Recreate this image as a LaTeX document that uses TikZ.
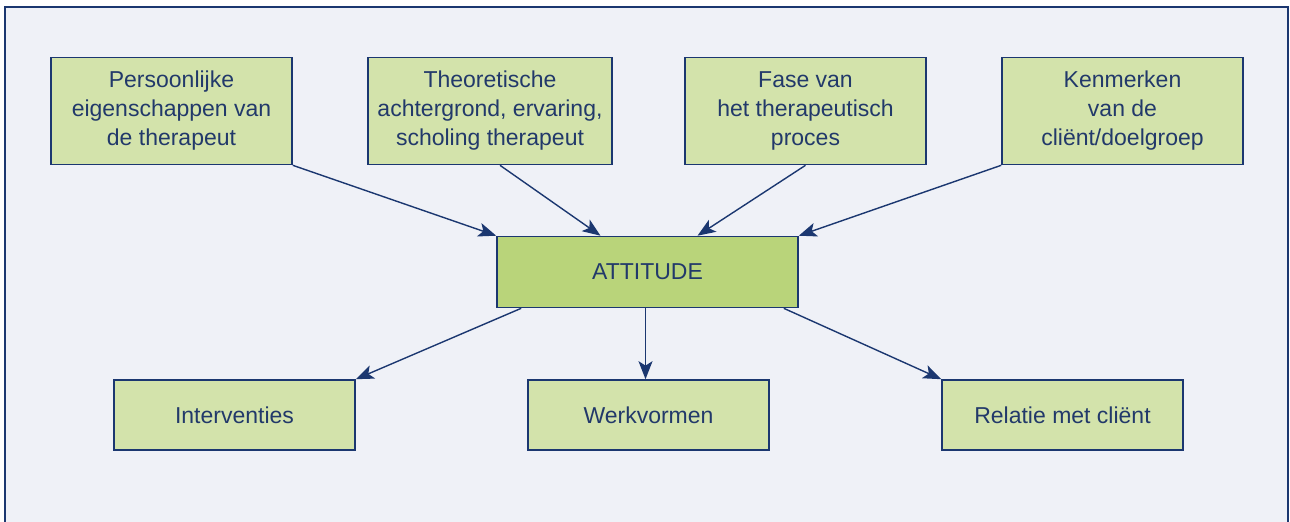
\documentclass[tikz,border=0pt]{standalone}
\usepackage{fontspec}
\setmainfont{Liberation Sans}
\usetikzlibrary{arrows.meta,calc}
\definecolor{bgc}{HTML}{EFF1F7}
\definecolor{navy}{HTML}{1B3770}
\definecolor{txt}{HTML}{22396A}
\definecolor{boxc}{HTML}{D3E3AB}
\definecolor{attc}{HTML}{B9D47A}
\tikzset{
  card/.style={draw=navy, line width=0.8pt, fill=boxc, text=txt, align=center,
    minimum width=120.5pt, minimum height=53.5pt, inner sep=2pt,
    font=\fontsize{11.5}{14.5}\selectfont},
  lowcard/.style={card, minimum height=35pt},
  attbox/.style={card, fill=attc, minimum width=150.5pt, minimum height=35.5pt},
  conn/.style={draw=navy, line width=0.7pt, -{Stealth[length=9pt,width=7pt,inset=2.2pt]}}
}
\begin{document}
\begin{tikzpicture}[x=0.5pt,y=-0.5pt]
\useasboundingbox (0,0) rectangle (1290,521);
\fill[white] (0,0) rectangle (1290,521);
\fill[bgc] (5,7) rectangle (1288,530);
\draw[navy, line width=0.8pt] (5,530) -- (5,7) -- (1288,7) -- (1288,530);
\node[card] (b1) at (171.5,111) {Persoonlijke\\eigenschappen van\\de therapeut};
\node[card, minimum width=122pt] (b2) at (490,111) {Theoretische\\achtergrond, ervaring,\\scholing therapeut};
\node[card] (b3) at (805.5,111) {Fase van\\het therapeutisch\\proces};
\node[card] (b4) at (1122.5,111) {Kenmerken\\van de\\cli\"ent/doelgroep};
\node[attbox] (att) at (647.5,272) {ATTITUDE};
\node[lowcard] (i) at (234.5,415) {Interventies};
\node[lowcard] (w) at (648.5,415) {Werkvormen};
\node[lowcard] (r) at (1062.5,415) {Relatie met cli\"ent};
\draw[conn] (b1.south east) -- (att.north west);
\draw[conn] ($(b2.south)+(10,0)$) -- ($(att.north)+(-47,0)$);
\draw[conn] (b3.south) -- ($(att.north)+(50,0)$);
\draw[conn] (b4.south west) -- (att.north east);
\draw[conn] ($(att.south west)+(25,0)$) -- (i.north east);
\draw[conn] ($(att.south)+(-2,0)$) -- ($(w.north)+(-3,0)$);
\draw[conn] ($(att.south east)+(-15,0)$) -- (r.north west);
\end{tikzpicture}
\end{document}
